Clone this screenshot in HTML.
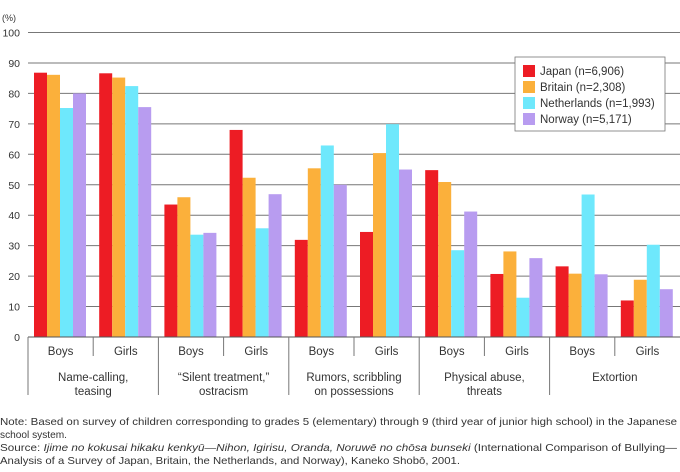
<!DOCTYPE html>
<html><head><meta charset="utf-8"><style>
body{margin:0;background:#fff;font-family:"Liberation Sans",sans-serif;}
svg text{font-family:"Liberation Sans",sans-serif;fill:#333;}
</style></head><body>
<svg width="680" height="467" viewBox="0 0 680 467">
<g id="grid"></g><g id="bars"></g><g id="xaxis"></g>
<text x="2" y="21" font-size="9">(%)</text>
<g>
<rect x="515" y="57" width="150" height="74" fill="#fff" stroke="#777" stroke-width="0.8"/>
<g id="legend"></g></g>
<g font-size="10.5">
<text x="0" y="425" textLength="677" lengthAdjust="spacingAndGlyphs">Note: Based on survey of children corresponding to grades 5 (elementary) through 9 (third year of junior high school) in the Japanese</text>
<text x="0" y="438" textLength="67" lengthAdjust="spacingAndGlyphs">school system.</text>
<text x="0" y="451" textLength="677" lengthAdjust="spacingAndGlyphs">Source: <tspan font-style="italic">Ijime no kokusai hikaku kenkyū—Nihon, Igirisu, Oranda, Noruwē no chōsa bunseki</tspan> (International Comparison of Bullying—</text>
<text x="0" y="464" textLength="460" lengthAdjust="spacingAndGlyphs">Analysis of a Survey of Japan, Britain, the Netherlands, and Norway), Kaneko Shobō, 2001.</text>
</g>
</svg>
<script>
const subLabels=["Boys","Girls","Boys","Girls","Boys","Girls","Boys","Girls","Boys","Girls"];
const categories=[["Name-calling,","teasing"],["“Silent treatment,”","ostracism"],["Rumors, scribbling","on possessions"],["Physical abuse,","threats"],["Extortion"]];
const seriesNames=["Japan (n=6,906)","Britain (n=2,308)","Netherlands (n=1,993)","Norway (n=5,171)"];
const japan=[86.8,86.6,43.5,68,31.9,34.5,54.8,20.7,23.2,12];
const britain=[86.1,85.2,45.9,52.3,55.4,60.4,50.9,28.1,20.8,18.8];
const netherlands=[75.2,82.4,33.6,35.7,62.9,69.9,28.5,12.9,46.8,30.3];
const norway=[80,75.5,34.2,46.9,50,55,41.2,25.9,20.6,15.7];
const yTicks=[0,10,20,30,40,50,60,70,80,90,100];
const colors=["#ed1c24","#fbb03b","#6ee8fc","#b89cf0"];
const NS="http://www.w3.org/2000/svg";
const x0=28,gw=65.2,y0=337,yTop=32.5;
const y=v=>y0-(y0-yTop)*v/100;
function mk(t,a,p){const e=document.createElementNS(NS,t);for(const k in a)e.setAttribute(k,a[k]);p.appendChild(e);return e;}
const grid=document.getElementById('grid');
yTicks.forEach(t=>{
 if(t>0){const l=mk('line',{x1:x0,x2:680,y1:y(t),y2:y(t),stroke:'#777','stroke-width':1},grid);
 
 }
 const tx=mk('text',{x:20,y:y(t)+4,'font-size':10.5,'text-anchor':'end'},grid);tx.textContent=t;
 
 
});
const bars=document.getElementById('bars');
[japan,britain,netherlands,norway].forEach((s,si)=>{
 s.forEach((v,i)=>{
  const r=mk('rect',{x:x0+i*gw+6+si*13,y:y(v),width:13,height:y0-y(v),fill:colors[si]},bars);
  
  
 });
});
const xa=document.getElementById('xaxis');
mk('line',{x1:x0,x2:680,y1:y0,y2:y0,stroke:'#555','stroke-width':1},xa);
subLabels.forEach((s,i)=>{
 const xl=x0+i*gw;
 mk('line',{x1:xl,x2:xl,y1:y0,y2:i%2==0?395:356,stroke:'#777','stroke-width':1},xa);
 const t=mk('text',{x:xl+gw/2,y:355,'font-size':11.5,'text-anchor':'middle'},xa);t.textContent=s;
 
 
});
categories.forEach((c,i)=>{
 const cx=x0+i*2*gw+gw;
 const ys=c.length==1?[381]:[381,395];
 c.forEach((line,j)=>{const t=mk('text',{x:cx,y:ys[j],'font-size':11.5,'text-anchor':'middle'},xa);t.textContent=line;
 
 });
});
const lg=document.getElementById('legend');
seriesNames.forEach((n,i)=>{
 mk('rect',{x:523,y:65+i*16,width:12,height:12,fill:colors[i]},lg);
 const t=mk('text',{x:540,y:75+i*16,'font-size':11.5},lg);t.textContent=n;
 
 
});
</script>
</body></html>
